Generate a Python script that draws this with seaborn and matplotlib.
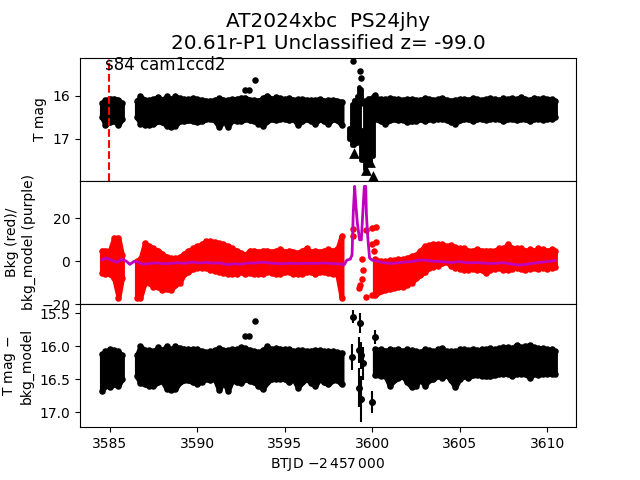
import matplotlib
matplotlib.use("Agg")
import matplotlib.pyplot as plt
import seaborn as sns

# Light curve values. The dense bands are kept as
# top/bottom of the scatter at each time step.
t_first = [3584.55, 3584.75, 3585.0, 3585.25, 3585.5, 3585.7]
t_a = [3586.55, 3586.75, 3587.0, 3587.25, 3587.5, 3587.75, 3588.0, 3588.25, 3588.5, 3588.75, 3589.0,
       3589.25, 3589.5, 3589.75, 3590.0, 3590.25, 3590.5, 3590.75, 3591.0, 3591.25, 3591.5,
       3591.75, 3592.0, 3592.25, 3592.5, 3592.75, 3593.0, 3593.25, 3593.5, 3593.75, 3594.0,
       3594.25, 3594.5, 3594.75, 3595.0, 3595.25, 3595.5, 3595.75, 3596.0, 3596.25, 3596.5,
       3596.75, 3597.0, 3597.25, 3597.5, 3597.75, 3598.0, 3598.25]
t_b = [3600.15, 3600.5, 3600.75, 3601.0, 3601.25, 3601.5, 3601.75, 3602.0, 3602.25, 3602.5,
       3602.75, 3603.0, 3603.25, 3603.5, 3603.75, 3604.0, 3604.25, 3604.5, 3604.75, 3605.0,
       3605.25, 3605.5, 3605.75, 3606.0, 3606.25, 3606.5, 3606.75, 3607.0, 3607.25, 3607.5,
       3607.75, 3608.0, 3608.25, 3608.5, 3608.75, 3609.0, 3609.25, 3609.5, 3609.75, 3610.0,
       3610.25, 3610.45]

# top panel: T mag
mag_first_top = [16.18, 16.1, 16.07, 16.07, 16.1, 16.18]
mag_first_bot = [16.5, 16.68, 16.62, 16.6, 16.68, 16.55]
mag_a_top = [16.12, 16.02, 16.1, 16.1, 16.08, 16.03, 16.1, 16.02, 16.08, 16.02, 16.06,
             16.08, 16.08, 16.06, 16.08, 16.1, 16.12, 16.12, 16.1, 16.06, 16.1,
             16.1, 16.08, 16.08, 16.05, 16.05, 16.1, 16.1, 16.12, 16.06, 16.0,
             16.08, 16.04, 16.06, 16.08, 16.06, 16.1, 16.08, 16.08, 16.1, 16.1,
             16.1, 16.08, 16.12, 16.1, 16.1, 16.12, 16.14]
mag_a_bot = [16.5, 16.65, 16.68, 16.68, 16.66, 16.6, 16.62, 16.7, 16.72, 16.7, 16.6,
             16.6, 16.58, 16.6, 16.62, 16.6, 16.55, 16.55, 16.58, 16.73, 16.6,
             16.72, 16.58, 16.6, 16.6, 16.55, 16.58, 16.6, 16.65, 16.7, 16.6,
             16.55, 16.58, 16.55, 16.55, 16.58, 16.55, 16.68, 16.6, 16.55, 16.6,
             16.65, 16.55, 16.6, 16.65, 16.55, 16.58, 16.68]
mag_b_top = [16.05, 16.08, 16.08, 16.06, 16.08, 16.08, 16.1, 16.08, 16.08, 16.1,
             16.1, 16.06, 16.08, 16.1, 16.08, 16.06, 16.1, 16.12, 16.1, 16.08,
             16.08, 16.1, 16.06, 16.08, 16.1, 16.08, 16.06, 16.08, 16.1, 16.06,
             16.08, 16.06, 16.08, 16.04, 16.08, 16.1, 16.05, 16.08, 16.06, 16.08,
             16.08, 16.12]
mag_b_bot = [16.55, 16.6, 16.65, 16.58, 16.55, 16.58, 16.56, 16.62, 16.6, 16.6,
             16.55, 16.6, 16.55, 16.56, 16.55, 16.55, 16.57, 16.62, 16.65, 16.58,
             16.55, 16.55, 16.6, 16.55, 16.55, 16.57, 16.55, 16.55, 16.55, 16.6,
             16.55, 16.55, 16.58, 16.55, 16.55, 16.6, 16.55, 16.55, 16.56, 16.55,
             16.55, 16.5]
mag_tr_t = [3598.7, 3598.85, 3598.95, 3599.1, 3599.15, 3599.25, 3599.35, 3599.35, 3599.46, 3599.6, 3599.75, 3599.9, 3600.05]
mag_tr_top = [16.75, 16.2, 16.1, 16.7, 16.0, 15.8, 15.85, 16.8, 16.8, 16.1, 16.05, 16.05, 16.0]
mag_tr_bot = [17.0, 17.15, 17.15, 17.1, 17.1, 17.0, 16.2, 17.5, 17.5, 17.7, 17.55, 17.6, 17.4]
mag_out_t = [3592.75, 3592.95, 3593.3, 3598.9, 3599.3, 3599.35, 3600.15]
mag_out_y = [15.88, 15.88, 15.65, 15.21, 15.42, 15.6, 15.98]
lim_t = [3598.95, 3599.65, 3599.85, 3600.05]
lim_y = [17.33, 17.72, 17.55, 17.86]

# middle panel: background
bkg_first_top = [5, 5, 5, 11, 11, 3]
bkg_first_bot = [-5.5, -6, -6, -8, -17, -8]
bkg_a_top = [0, 1, 8.5, 7, 6, 5, 3.5, 2, 1.5, 1.5, 2,
             3.5, 5, 6, 7, 8, 9.5, 9.5, 9, 8.5, 8,
             7, 6, 5, 4, 3, 5, 5, 4.5, 5, 5,
             4.5, 5, 5.5, 4.5, 5, 4.5, 4, 5, 6, 4.5,
             5, 4.5, 5, 5.5, 5, 5.5, 12]
bkg_a_bot = [-17, -17, -10, -10, -12, -12, -13.5, -13, -13.5, -11, -10,
             -6, -5, -3.5, -3, -3, -3, -4, -4.5, -5, -5.5,
             -6, -6, -6, -5, -6, -5.5, -6, -6, -6, -5,
             -5.5, -6, -6, -5, -5, -6, -6, -6, -5, -5,
             -6, -5, -5, -5.5, -6, -6, -17]
bkg_b_top = [1, 0, 0, 0.5, 0.5, 1, 1, 1.5, 2.5, 3,
             5, 7, 7.5, 8, 8, 8, 7, 7.5, 6.5, 6,
             6, 5, 5, 5.5, 5, 5, 5, 5, 6, 6,
             8, 6, 6, 6, 5, 5.5, 5, 6, 5.5, 5,
             5.5, 5]
bkg_b_bot = [-16, -14, -13.5, -13, -12.5, -12, -12, -11, -10, -8,
             -6.5, -5, -3, -2.5, -2, -1, -0.5, -2, -3, -3.5,
             -4, -4, -3.5, -4, -4, -5.5, -4, -3.5, -3, -4,
             -4, -3.5, -3, -3.5, -4, -3.5, -3, -3.5, -3, -3.5,
             -3, -2.5]
bkg_tr_t = [3598.9, 3598.9, 3599.4, 3599.45, 3599.4, 3599.3, 3599.25, 3599.65, 3599.65, 3600.0, 3600.0, 3600.2, 3600.2, 3600.0, 3600.1]
bkg_tr_y = [15, 12, 1, -4, -8.5, -11, -12.7, 14.5, -16.5, -16, 15.5, 16, 9, 8, 5]

model_t = [3584.55, 3584.8, 3585.1, 3585.4, 3585.7, 3585.95, 3586.15, 3586.4, 3586.65, 3586.9, 3587.3, 3587.7,
           3588.1, 3588.5, 3588.9, 3589.3, 3589.7, 3590.1, 3590.5, 3590.9, 3591.3, 3591.7, 3592.1, 3592.5,
           3592.9, 3593.3, 3593.7, 3594.1, 3594.5, 3594.9, 3595.3, 3595.7, 3596.1, 3596.5, 3596.9, 3597.3,
           3597.7, 3598.1, 3598.4, 3598.55, 3598.75, 3598.85, 3598.92, 3599.0, 3599.06, 3599.15, 3599.28,
           3599.38, 3599.44, 3599.55, 3599.63, 3599.67, 3599.75, 3599.85, 3600.0, 3600.3, 3600.7, 3601.2,
           3601.7, 3602.2, 3602.7, 3603.0, 3603.5, 3604.0, 3604.5, 3605.0, 3605.5, 3606.0, 3606.5, 3607.0,
           3607.5, 3608.0, 3608.5, 3609.0, 3609.5, 3610.0, 3610.45]
model_y = [0.7, 1.5, 0.5, -0.5, 1, 0, -1.5, 0, -0.5, -1.5, -1, -0.8,
           -1.2, -1, -0.7, -1, -0.3, -0.9, -0.5, -0.9, -0.8, -1.6, -1.2, -1.4,
           -0.8, -0.9, -0.4, -0.8, -1, -1.2, -0.9, -1.1, -1, -1, -1, -0.8,
           -1.1, -1.2, -1.7, 0.5, 1, 3, 23, 35, 27, 18, 10,
           10, 19, 35, 35, 22, 11, 1.5, 0.5, 0, -0.8, -1,
           -0.5, -0.2, 0.5, 0.5, 0, -0.2, -0.6, -0.2, -0.8, -0.6, -1, -1,
           -0.7, -1.4, -1.8, -1.2, -0.6, -0.2, 0.3]

# bottom panel: T mag - bkg_model
sub_first_top = [16.12, 16.08, 16.05, 16.06, 16.08, 16.14]
sub_first_bot = [16.68, 16.6, 16.62, 16.58, 16.6, 16.5]
sub_a_top = [16.14, 16.0, 16.06, 16.06, 16.08, 16.02, 16.06, 16.0, 16.05, 16.0, 16.03,
             16.04, 16.05, 16.05, 16.05, 16.07, 16.09, 16.08, 16.06, 16.03, 16.06,
             16.06, 16.05, 16.05, 16.02, 16.03, 16.06, 16.08, 16.09, 16.06, 16.0,
             16.05, 16.03, 16.04, 16.05, 16.05, 16.07, 16.06, 16.06, 16.07, 16.07,
             16.06, 16.06, 16.08, 16.07, 16.08, 16.09, 16.1]
sub_a_bot = [16.46, 16.56, 16.58, 16.6, 16.6, 16.55, 16.53, 16.65, 16.66, 16.65, 16.55,
             16.52, 16.52, 16.55, 16.57, 16.54, 16.5, 16.52, 16.5, 16.67, 16.53,
             16.68, 16.52, 16.55, 16.56, 16.5, 16.53, 16.55, 16.6, 16.65, 16.55,
             16.5, 16.5, 16.5, 16.5, 16.55, 16.5, 16.63, 16.55, 16.5, 16.56,
             16.6, 16.5, 16.55, 16.58, 16.52, 16.52, 16.58]
sub_b_top = [16.05, 16.05, 16.07, 16.05, 16.06, 16.05, 16.07, 16.05, 16.06, 16.08,
             16.09, 16.05, 16.06, 16.08, 16.05, 16.03, 16.08, 16.07, 16.08, 16.05,
             16.05, 16.06, 16.04, 16.06, 16.05, 16.05, 16.03, 16.05, 16.03, 16.02,
             16.02, 16.03, 15.98, 16.02, 16.0, 15.98, 16.02, 16.03, 16.03, 16.05,
             16.05, 16.08]
sub_b_bot = [16.44, 16.45, 16.45, 16.6, 16.52, 16.48, 16.46, 16.55, 16.62, 16.6,
             16.5, 16.6, 16.52, 16.5, 16.45, 16.48, 16.44, 16.52, 16.62, 16.5,
             16.45, 16.48, 16.44, 16.44, 16.45, 16.46, 16.46, 16.44, 16.42, 16.42,
             16.42, 16.45, 16.42, 16.42, 16.42, 16.48, 16.42, 16.44, 16.42, 16.42,
             16.42, 16.42]
sub_out_t = [3592.75, 3592.95, 3593.3]
sub_out_y = [15.85, 15.85, 15.62]
sub_tr_t = [3598.9, 3599.3, 3598.85, 3599.25, 3599.35, 3599.45, 3599.25, 3599.35, 3600.0, 3600.15]
sub_tr_y = [15.55, 15.65, 16.16, 16.06, 16.14, 16.26, 16.63, 16.8, 16.85, 15.86]
sub_tr_err = [0.1, 0.15, 0.2, 0.2, 0.2, 0.25, 0.3, 0.35, 0.17, 0.1]
x_ticks = [3585, 3590, 3595, 3600, 3605, 3610]
discovery_t = 3584.95

fig, (ax1, ax2, ax3) = plt.subplots(3, 1, sharex=True, figsize=(6.4, 4.8), dpi=100,
                                    gridspec_kw={"hspace": 0})


def draw_band(ax, t, top, bot, color):
    # fill with a thick round outline, points along both edges for the scallops
    ax.fill_between(t, top, bot, color=color, lw=3.5, joinstyle="round")
    sns.scatterplot(x=t + t, y=top + bot, color=color, s=22, linewidth=0, ax=ax, legend=False)


draw_band(ax1, t_first, mag_first_top, mag_first_bot, "k")
draw_band(ax1, t_a, mag_a_top, mag_a_bot, "k")
draw_band(ax1, t_b, mag_b_top, mag_b_bot, "k")
ax1.vlines(mag_tr_t, mag_tr_top, mag_tr_bot, color="k", lw=3.5, capstyle="round")
sns.scatterplot(x=mag_out_t, y=mag_out_y, color="k", s=22, linewidth=0, ax=ax1, legend=False)
sns.scatterplot(x=lim_t, y=lim_y, color="k", s=60, marker="^", linewidth=0, ax=ax1, legend=False)
ax1.axvline(discovery_t, color="r", ls="--", lw=1.5)
ax1.text(3584.72, 15.41, "s84 cam1ccd2", fontsize=12)
ax1.set_title("AT2024xbc  PS24jhy\n20.61r-P1 Unclassified z= -99.0", fontsize=14.4)
ax1.set_ylim(17.98, 15.12)
ax1.set_yticks([16, 17])
ax1.set_ylabel("T mag")

draw_band(ax2, t_first, bkg_first_top, bkg_first_bot, "r")
draw_band(ax2, t_a, bkg_a_top, bkg_a_bot, "r")
draw_band(ax2, t_b, bkg_b_top, bkg_b_bot, "r")
sns.scatterplot(x=bkg_tr_t, y=bkg_tr_y, color="r", s=22, linewidth=0, ax=ax2, legend=False)
sns.lineplot(x=model_t, y=model_y, color="m", lw=2, sort=False, estimator=None, ax=ax2, legend=False)
ax2.set_ylim(-20, 37.6)
ax2.set_yticks([-20, 0, 20])
ax2.set_ylabel("Bkg (red)/\nbkg_model (purple)")

draw_band(ax3, t_first, sub_first_top, sub_first_bot, "k")
draw_band(ax3, t_a, sub_a_top, sub_a_bot, "k")
draw_band(ax3, t_b, sub_b_top, sub_b_bot, "k")
sns.scatterplot(x=sub_out_t, y=sub_out_y, color="k", s=22, linewidth=0, ax=ax3, legend=False)
ax3.errorbar(sub_tr_t, sub_tr_y, yerr=sub_tr_err, fmt=".", color="k", ms=8, elinewidth=1.5)
ax3.set_ylim(17.23, 15.36)
ax3.set_yticks([15.5, 16.0, 16.5, 17.0])
ax3.set_ylabel("T mag $-$\nbkg_model")
ax3.set_xlim(3583.3, 3611.65)
ax3.set_xticks(x_ticks)
ax3.set_xlabel("BTJD $-2\\,457\\,000$")

fig.savefig("out.png", dpi=100)
